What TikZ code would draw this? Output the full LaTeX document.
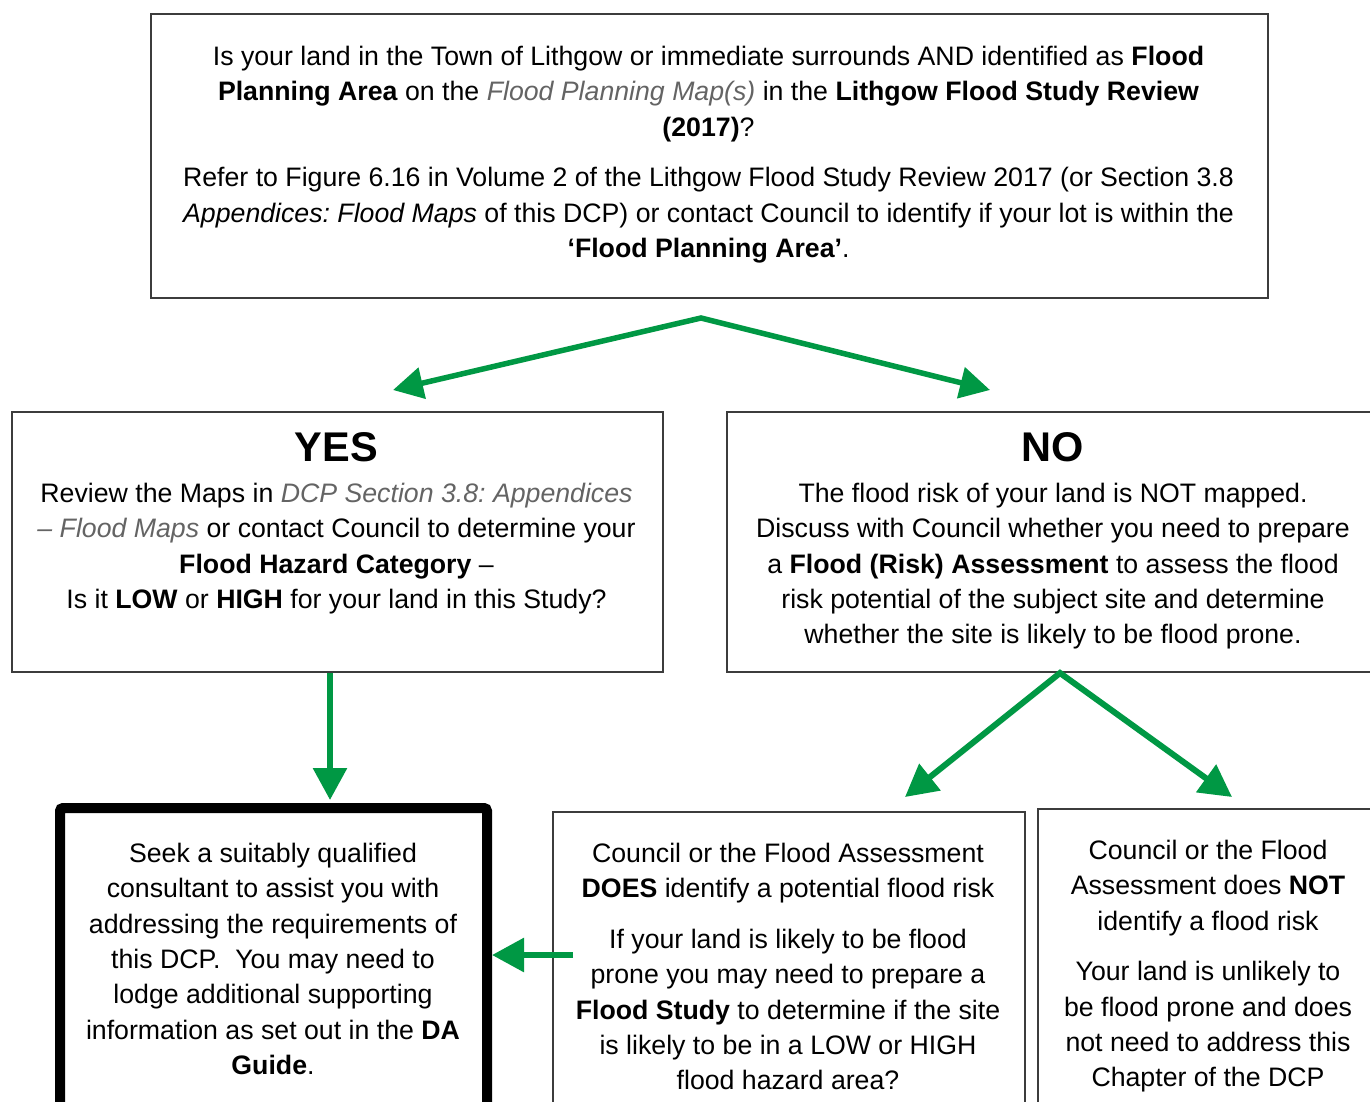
\documentclass[tikz,border=0pt]{standalone}
\usepackage{fontspec}
\setmainfont{Liberation Sans}
\usetikzlibrary{arrows.meta}
\definecolor{fgreen}{RGB}{0,152,68}
\definecolor{ggray}{RGB}{100,100,100}
\definecolor{bline}{RGB}{60,60,60}
\newcommand{\gi}[1]{\textcolor{ggray}{\itshape #1}}
\frenchspacing
\begin{document}
\begin{tikzpicture}[x=1pt,y=-1pt,
  box/.style={draw=bline,line width=1.5pt,inner sep=0pt,anchor=north west},
  thickbox/.style={draw=black,line width=10pt,rounded corners=3pt,inner sep=0pt,anchor=north west},
  txt/.style={align=center,inner sep=0pt,anchor=north,font=\fontsize{26.7}{35.3}\selectfont},
  ttl/.style={inner sep=0pt,anchor=north,font=\fontsize{41.5}{45}\selectfont\bfseries},
  arr/.style={draw=fgreen,line width=6pt,line join=miter,-{Triangle[length=32pt,width=33pt]}},
  arrtwo/.style={draw=fgreen,line width=5.5pt,line join=miter,{Triangle[length=30pt,width=31pt]}-{Triangle[length=30pt,width=31pt]}},
  arrsplit/.style={draw=fgreen,line width=6pt,line join=miter,{Triangle[length=32pt,width=33pt]}-{Triangle[length=32pt,width=33pt]}}]
\useasboundingbox[fill=white] (0,0) rectangle (1370,1101);

% boxes
\node[box,minimum width=1117pt,minimum height=284pt] (q) at (150,13) {};
\node[box,minimum width=651pt,minimum height=260pt] (yes) at (11,411) {};
\node[box,minimum width=660pt,minimum height=260pt] (no) at (726,411) {};
\node[thickbox,minimum width=427pt,minimum height=320pt] (seek) at (55,803) {};
\node[box,minimum width=472pt,minimum height=320pt] (mid) at (552,811) {};
\node[box,minimum width=350pt,minimum height=320pt] (right) at (1037,808) {};

% texts
\node[txt] (qt) at (708.5,46) {Is your land in the Town of Lithgow or immediate surrounds AND identified as \textbf{Flood}\\
\textbf{Planning Area} on the \gi{Flood Planning Map(s)} in the \textbf{Lithgow Flood Study Review}\\
\textbf{(2017)}?\\[15.5pt]
Refer to Figure 6.16 in Volume 2 of the Lithgow Flood Study Review 2017 (or Section 3.8\\
\textit{Appendices: Flood Maps} of this DCP) or contact Council to identify if your lot is within the\\
\textbf{‘Flood Planning Area’}.};

\node[ttl] (yest) at (336.5,432) {YES};
\node[txt] (yesb) at (336.5,483) {Review the Maps in \gi{DCP Section 3.8: Appendices}\\
\gi{– Flood Maps} or contact Council to determine your\\
\textbf{Flood Hazard Category} –\\
Is it \textbf{LOW} or \textbf{HIGH} for your land in this Study?};

\node[ttl] (not) at (1053,432) {NO};
\node[txt] (nob) at (1053,483) {The flood risk of your land is NOT mapped.\\
Discuss with Council whether you need to prepare\\
a \textbf{Flood (Risk) Assessment} to assess the flood\\
risk potential of the subject site and determine\\
whether the site is likely to be flood prone.};

\node[txt] (seekt) at (273,843) {Seek a suitably qualified\\
consultant to assist you with\\
addressing the requirements of\\
this DCP.\ \ You may need to\\
lodge additional supporting\\
information as set out in the \textbf{DA}\\
\textbf{Guide}.};

\node[txt] (midt) at (788,843) {Council or the Flood Assessment\\
\textbf{DOES} identify a potential flood risk\\[15.5pt]
If your land is likely to be flood\\
prone you may need to prepare a\\
\textbf{Flood Study} to determine if the site\\
is likely to be in a LOW or HIGH\\
flood hazard area?};

\node[txt] (rightt) at (1208,840) {Council or the Flood\\
Assessment does \textbf{NOT}\\
identify a flood risk\\[15.5pt]
Your land is unlikely to\\
be flood prone and does\\
not need to address this\\
Chapter of the DCP};

% connectors
\coordinate (apex) at (701,318);
\coordinate (yesin) at (393,390);
\coordinate (noin) at (990,390);
\draw[arrtwo] (yesin) -- (apex) -- (noin);

\coordinate (ydown) at (330,800);
\draw[arr] (yes.south -| ydown) -- (ydown);

\coordinate (napex) at (1060,673);
\coordinate (midin) at (905,797);
\coordinate (rightin) at (1232,797);
\draw[arrsplit] (midin) -- (napex) -- (rightin);

\coordinate (lstart) at (573,955);
\draw[arr] (lstart) -- (seek.east |- lstart);
\end{tikzpicture}
\end{document}
